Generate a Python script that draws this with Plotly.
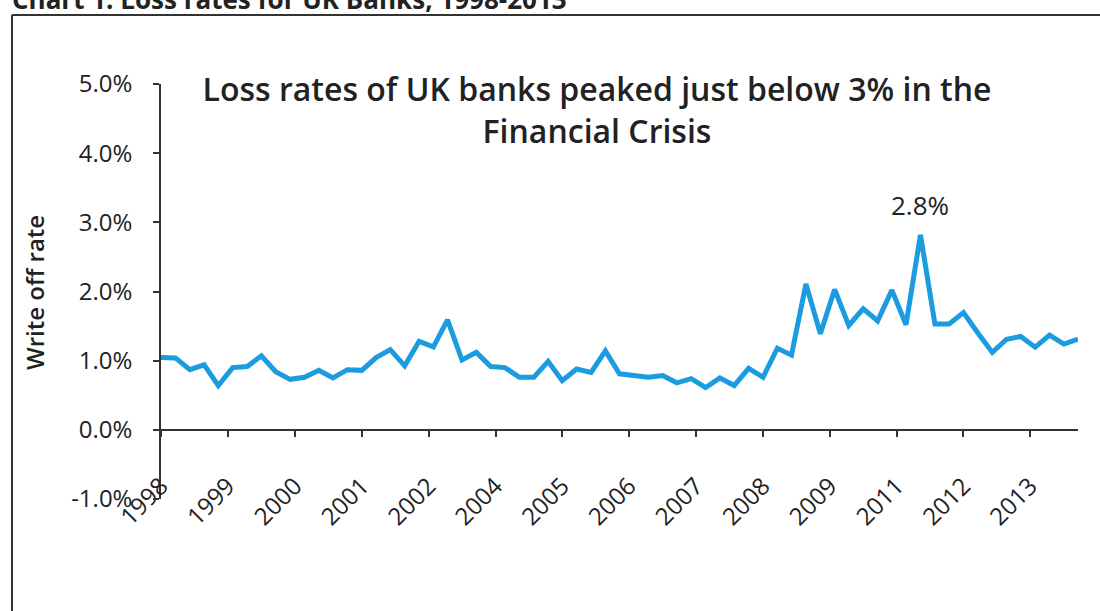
import plotly.graph_objects as go
import pandas as pd

# Quarterly write-off rates (%), Mar 1998 .. Mar 2014
quarters = pd.date_range("1998-03-01", periods=65, freq="3MS")
write_off_rate = [
    1.045, 1.04, 0.87, 0.94, 0.64, 0.90, 0.915, 1.07, 0.84, 0.73,
    0.76, 0.86, 0.75, 0.87, 0.86, 1.045, 1.16, 0.925, 1.28, 1.20,
    1.59, 1.01, 1.12, 0.915, 0.90, 0.76, 0.76, 0.99, 0.71, 0.88,
    0.83, 1.14, 0.81, 0.79, 0.76, 0.785, 0.68, 0.74, 0.61, 0.75,
    0.64, 0.89, 0.76, 1.18, 1.08, 2.11, 1.39, 2.03, 1.51, 1.75,
    1.575, 2.02, 1.52, 2.82, 1.53, 1.53, 1.695, 1.40, 1.12, 1.31,
    1.35, 1.195, 1.37, 1.24, 1.31,
]
y_ticks = [-1, 0, 1, 2, 3, 4, 5]
y_tick_labels = ["-1.0%", "0.0%", "1.0%", "2.0%", "3.0%", "4.0%", "5.0%"]
peak_label = "2.8%"

W, H = 1100, 611
L, R, T, B = 161, 22, 84, 112
pw, ph = W - L - R, H - T - B


def px(x):
    return (x - L) / pw


def py(y):
    return (H - B - y) / ph


FONT = "Open Sans"
DARK = "#222222"

fig = go.Figure()
fig.add_trace(go.Scatter(
    x=quarters, y=write_off_rate, mode="lines",
    line=dict(color="#1b9be0", width=5), hoverinfo="x+y", showlegend=False,
))

peak_i = max(range(len(write_off_rate)), key=lambda i: write_off_rate[i])
fig.add_annotation(
    x=quarters[peak_i], y=write_off_rate[peak_i], xref="x", yref="y",
    text=peak_label, showarrow=False, yanchor="bottom", yshift=10,
    font=dict(family=FONT, size=26, color=DARK),
)

fig.update_layout(
    width=W, height=H,
    margin=dict(l=L, r=R, t=T, b=B, autoexpand=False),
    paper_bgcolor="white", plot_bgcolor="white",
    title=dict(
        text="Loss rates of UK banks peaked just below 3% in the<br>Financial Crisis",
        x=597 / W, xanchor="center", xref="container",
        y=1 - 101 / H, yanchor="top", yref="container",
        font=dict(family=FONT, size=32, color=DARK, weight=600),
    ),
    xaxis=dict(
        type="date",
        range=[quarters[0], quarters[-1]],
        tick0="1998-03-01", dtick="M14", tickformat="%Y",
        tickangle=-45,
        anchor="free", position=1 / 6,
        showline=True, linecolor="#333333", linewidth=1.5,
        ticks="outside", ticklen=6, tickwidth=1.5, tickcolor="#333333",
        showgrid=False, zeroline=False,
        tickfont=dict(family=FONT, size=24, color=DARK),
        ticklabelstandoff=26,
        automargin=False,
    ),
    yaxis=dict(
        range=[-1, 5], tickvals=y_ticks, ticktext=y_tick_labels,
        showline=True, linecolor="#333333", linewidth=1.5,
        ticks="outside", ticklen=6, tickwidth=1.5, tickcolor="#333333",
        showgrid=False, zeroline=False,
        tickfont=dict(family=FONT, size=24, color=DARK),
        ticklabelstandoff=16,
        automargin=False,
    ),
)

# y-axis title
fig.add_annotation(
    x=px(34), y=py(293), xref="paper", yref="paper",
    xanchor="center", yanchor="middle",
    text="Write off rate", textangle=-90, showarrow=False,
    font=dict(family=FONT, size=24, color=DARK, weight=600),
)

# cut-off header at top (as in the reference)
fig.add_annotation(
    x=px(10), y=py(-1), xref="paper", yref="paper", xanchor="left", yanchor="middle",
    text="Chart 1: Loss rates for UK Banks, 1998-2013", showarrow=False,
    font=dict(family=FONT, size=26, color=DARK, weight=700),
)

# frame lines
fig.add_shape(type="line", xref="paper", yref="paper",
              x0=px(12), y0=py(15), x1=px(1100), y1=py(15),
              line=dict(color="#333333", width=2))
fig.add_shape(type="line", xref="paper", yref="paper",
              x0=px(12), y0=py(15), x1=px(12), y1=py(611),
              line=dict(color="#333333", width=2))

fig.write_html("out.html")
